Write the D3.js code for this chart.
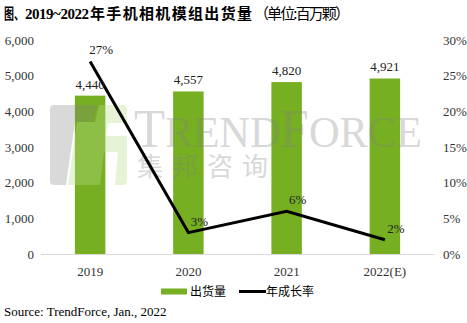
<!DOCTYPE html>
<html><head><meta charset="utf-8">
<script src="https://cdn.jsdelivr.net/npm/d3@7"></script>
<style>body{margin:0;background:#fff}svg{display:block}</style>
</head><body>
<script>
const categories = ["2019","2020","2021","2022(E)"];
const shipments = [4440, 4557, 4820, 4921];
const growth = [27, 3, 6, 2];
const leftTicks = [0,1000,2000,3000,4000,5000,6000];
const rightTicks = [0,5,10,15,20,25,30];

const W=467,H=323;
const svg=d3.select("body").append("svg").attr("width",W).attr("height",H);
const serif="'Liberation Serif','Times New Roman',serif";
const cjk="'Noto Sans CJK SC','Noto Sans',sans-serif";

const x=d3.scaleBand().domain(categories).range([41,434]).paddingInner(0.69).paddingOuter(0.345);
const y=d3.scaleLinear().domain([0,6000]).range([254,40]);
const y2=d3.scaleLinear().domain([0,30]).range([254,40]);

// title
const t=svg.append("text").attr("y",19).attr("font-size",15).attr("fill","#000");
t.append("tspan").attr("x",4).attr("font-family",cjk).attr("font-weight","bold").attr("textLength",20).attr("lengthAdjust","spacingAndGlyphs").text("图、");
t.append("tspan").attr("x",25).attr("font-family",serif).attr("font-weight","bold").attr("textLength",64).text("2019~2022");
t.append("tspan").attr("x",90).attr("font-family",cjk).attr("font-weight","bold").attr("textLength",162).text("年手机相机模组出货量");
t.append("tspan").attr("x",254).attr("font-family",cjk).attr("textLength",96).text("（单位:百万颗）");

// axes
const ax=svg.append("g").attr("transform","translate(34,0)")
  .call(d3.axisLeft(y).tickValues(leftTicks).tickSize(0).tickPadding(0).tickFormat(d3.format(",")));
ax.select(".domain").remove();
ax.selectAll("text").attr("font-family",serif).attr("font-size",13).attr("fill","#333");

const ax2=svg.append("g").attr("transform","translate(443,0)")
  .call(d3.axisRight(y2).tickValues(rightTicks).tickSize(0).tickPadding(0).tickFormat(d=>d+"%"));
ax2.select(".domain").remove();
ax2.selectAll("text").attr("font-family",serif).attr("font-size",13).attr("fill","#333");

const axb=svg.append("g").attr("transform","translate(0,254)")
  .call(d3.axisBottom(x).tickSize(0).tickPadding(13));
axb.select(".domain").attr("stroke","#d9d9d9");
axb.selectAll("text").attr("font-family",serif).attr("font-size",13).attr("fill","#333");
svg.append("line").attr("x1",41).attr("x2",434).attr("y1",254.5).attr("y2",254.5).attr("stroke","#d9d9d9");

// bars
svg.selectAll(".bar").data(shipments).enter().append("rect")
  .attr("x",(d,i)=>x(categories[i])).attr("width",x.bandwidth())
  .attr("y",d=>y(d)).attr("height",d=>y(0)-y(d)).attr("fill","#76AF22");

// watermark
const wm=svg.append("g");
wm.append("path").attr("d","M54,105 H97 L93,122 H75 L66,185 H54 Q50,185 50,181 V109 Q50,105 54,105 Z")
  .attr("fill","#808080").attr("opacity",0.3);
wm.append("path").attr("fill-rule","evenodd")
  .attr("d","M99,105 H123 Q127,105 127,109 V181 Q127,185 123,185 H68 L77,122 H95 Z M108,123 H127 V136 H106 Z M104,152 H118 L115,185 H100 Z")
  .attr("fill","#b9dc8c").attr("opacity",0.35);
wm.append("text").attr("x",134).attr("y",147).attr("font-family",serif).attr("fill","#808080").attr("opacity",0.3)
  .attr("textLength",288).attr("lengthAdjust","spacingAndGlyphs")
  .call(s=>{s.append("tspan").attr("font-size",54).text("T");
            s.append("tspan").attr("font-size",45).text("REND");
            s.append("tspan").attr("font-size",54).text("F");
            s.append("tspan").attr("font-size",45).text("ORCE");});
wm.append("text").attr("x",137).attr("y",176).attr("font-family",cjk).attr("font-size",26)
  .attr("fill","#808080").attr("opacity",0.3).attr("textLength",131).text("集邦咨询");

// line
const line=d3.line().x((d,i)=>x(categories[i])+x.bandwidth()/2).y(d=>y2(d));
svg.append("path").datum(growth).attr("d",line).attr("fill","none").attr("stroke","#000").attr("stroke-width",3).attr("stroke-linejoin","miter");

// labels
svg.selectAll(".bl").data(shipments).enter().append("text")
  .attr("x",(d,i)=>x(categories[i])+x.bandwidth()/2).attr("y",d=>y(d)-7)
  .attr("text-anchor","middle").attr("font-family",serif).attr("font-size",13).attr("fill","#222")
  .text(d=>d3.format(",")(d));
svg.selectAll(".pl").data(growth).enter().append("text")
  .attr("x",(d,i)=>x(categories[i])+x.bandwidth()/2+11).attr("y",d=>y2(d)-7)
  .attr("text-anchor","middle").attr("font-family",serif).attr("font-size",13).attr("fill","#222")
  .text(d=>d+"%");

// legend
svg.append("rect").attr("x",161).attr("y",288.5).attr("width",26).attr("height",6).attr("fill","#76AF22");
svg.append("text").attr("x",190).attr("y",296).attr("font-family",cjk).attr("font-size",12).text("出货量");
svg.append("line").attr("x1",239).attr("x2",266).attr("y1",291.5).attr("y2",291.5).attr("stroke","#000").attr("stroke-width",3);
svg.append("text").attr("x",266).attr("y",296).attr("font-family",cjk).attr("font-size",12).text("年成长率");

// source
svg.append("text").attr("x",4).attr("y",316).attr("font-family",serif).attr("font-size",13).text("Source: TrendForce, Jan., 2022");
</script>
</body></html>
